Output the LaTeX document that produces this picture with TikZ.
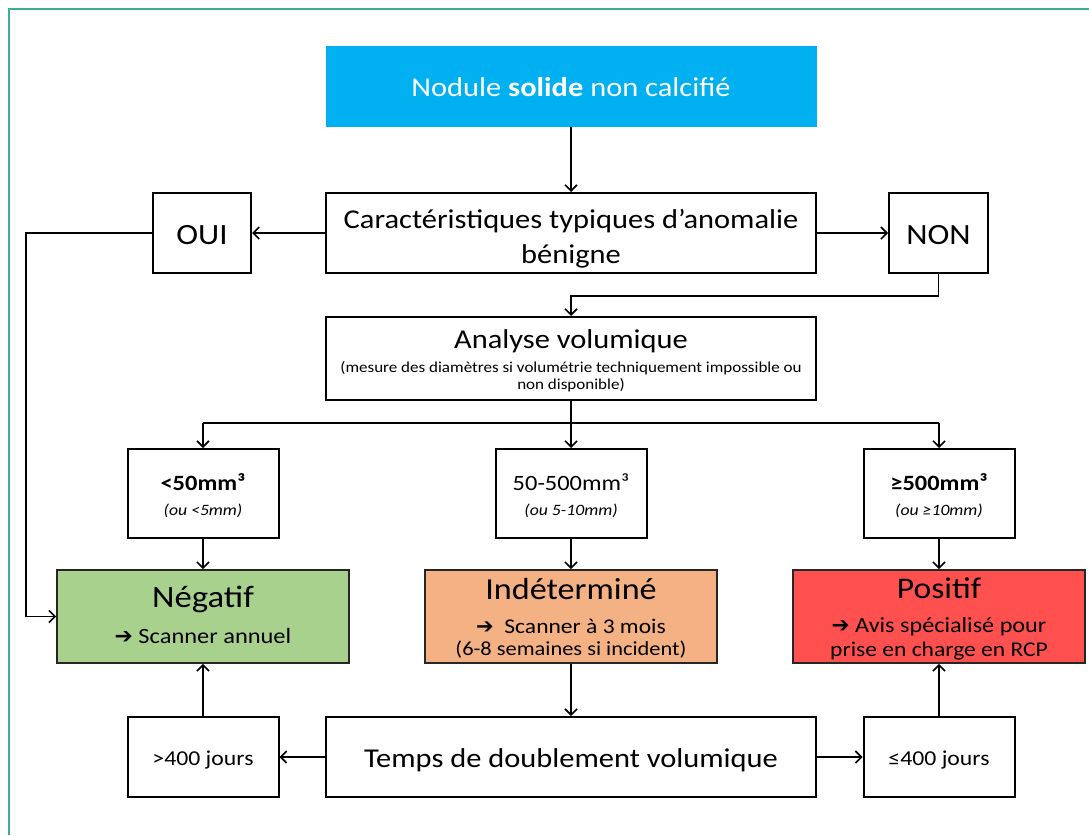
\documentclass[tikz,border=0pt]{standalone}
\usepackage{fontspec}
\setmainfont{Carlito}[FakeStretch=1.12]
\newfontfamily\dvs{DejaVu Sans}
\usetikzlibrary{arrows.meta}
\definecolor{framec}{HTML}{3AAE96}
\definecolor{nblue}{HTML}{00B0F0}
\definecolor{ngreen}{HTML}{A9D18E}
\definecolor{norange}{HTML}{F4B183}
\definecolor{nred}{HTML}{FF5050}
\newcommand{\fs}[1]{\fontsize{#1}{1.2\dimexpr#1pt\relax}\selectfont}
\newcommand{\harr}{{\dvs\char"2794}}
\begin{document}
\begin{tikzpicture}[x=1pt,y=-1pt,
  box/.style={draw=black, line width=2pt, inner sep=0pt, align=center, fill=white},
  res/.style={draw=black!85, line width=1.8pt, inner sep=0pt, minimum width=292, minimum height=93},
  arr/.style={line width=1.6pt, -{Straight Barb[length=6pt,width=12pt]}},
  ln/.style={line width=1.6pt},
  txt/.style={inner sep=0pt, anchor=base}]
\useasboundingbox (0,0) rectangle (1089,835);
\draw[framec, line width=2.5pt] (9,835) -- (9,9) -- (1089,9);

% top
\node[fill=nblue, inner sep=0pt, minimum width=491, minimum height=81] (top) at (571,86.5) {};
\node[txt, text=white, font=\fs{27.2}] (topt) at (571,96) {Nodule \textbf{solide} non calcifié};

\node[box, minimum width=490, minimum height=80] (car) at (571,233) {};
\node[txt, font=\fs{27.2}] (car1) at (571,228) {Caractéristiques typiques d’anomalie};
\node[txt, font=\fs{27.2}] (car2) at (571,263) {bénigne};
\node[box, minimum width=98, minimum height=80] (oui) at (202,233) {};
\node[txt, font=\fs{29.4}] (ouit) at (202,244) {OUI};
\node[box, minimum width=99, minimum height=80] (non) at (938.5,233) {};
\node[txt, font=\fs{29.4}] (nont) at (938.5,244) {NON};

% analysis
\node[box, minimum width=490, minimum height=83] (ana) at (571,358.5) {};
\node[txt, font=\fs{27.2}] (anat) at (571,348) {Analyse volumique};
\node[txt, font=\fs{15.2}] (anas1) at (571,372) {(mesure des diamètres si volumétrie techniquement impossible ou};
\node[txt, font=\fs{15.2}] (anas2) at (571,389) {non disponible)};

% criteria
\node[box, minimum width=151, minimum height=89] (c1) at (203,493.5) {};
\node[txt, font=\fs{21.8}\bfseries] (c1a) at (203,490) {<50mm³};
\node[txt, font=\fs{15.8}\itshape] (c1b) at (203,515) {(ou <5mm)};
\node[box, minimum width=151, minimum height=89] (c2) at (571,493.5) {};
\node[txt, font=\fs{21.8}] (c2a) at (571,490) {50-500mm³};
\node[txt, font=\fs{15.8}\itshape] (c2b) at (571,515) {(ou 5-10mm)};
\node[box, minimum width=151, minimum height=89] (c3) at (939,493.5) {};
\node[txt, font=\fs{21.8}\bfseries] (c3a) at (939,490) {≥500mm³};
\node[txt, font=\fs{15.8}\itshape] (c3b) at (939,515) {(ou ≥10mm)};

% results
\node[res, fill=ngreen] (neg) at (203,616.5) {};
\node[txt, font=\fs{31}] (negt) at (203,607) {Négatif};
\node[txt, font=\fs{21.8}] (negs) at (203,643) {\harr\ Scanner annuel};

\node[res, fill=norange] (ind) at (571,616.5) {};
\node[txt, font=\fs{30.5}] (indt) at (571,599) {Indéterminé};
\node[txt, font=\fs{21}] (inds) at (571,633) {\harr\ \ Scanner à 3 mois};
\node[txt, font=\fs{20}] (indp) at (571,655) {(6-8 semaines si incident)};

\node[res, fill=nred] (pos) at (939,616.5) {};
\node[txt, font=\fs{30}] (post) at (939,598) {Positif};
\node[txt, font=\fs{21.6}] (poss) at (939,632) {\harr\ Avis spécialisé pour};
\node[txt, font=\fs{21}] (posp) at (939,656) {prise en charge en RCP};

% bottom row
\node[box, minimum width=490, minimum height=80] (temps) at (571,757) {};
\node[txt, font=\fs{27.2}] (tempst) at (571,767) {Temps de doublement volumique};
\node[box, minimum width=151, minimum height=80] (j1) at (203,757) {};
\node[txt, font=\fs{21.2}] (j1t) at (203,765) {>400 jours};
\node[box, minimum width=151, minimum height=80] (j2) at (939,757) {};
\node[txt, font=\fs{21.2}] (j2t) at (939,765) {≤400 jours};

% connectors
\coordinate (lx) at (26,0);
\coordinate (split) at (571,423);
\draw[arr] (top.south) -- (car.north);
\draw[arr] (car.west) -- (oui.east);
\draw[arr] (car.east) -- (non.west);
\draw[arr] (non.south) -- ++(0,22) -| (ana.north);
\draw[arr] (oui.west) -- (oui.west -| lx) |- (neg.west);
\draw[ln] (ana.south) -- (split);
\draw[ln] (c1.north |- split) -- (c3.north |- split);
\draw[arr] (c1.north |- split) -- (c1.north);
\draw[arr] (split) -- (c2.north);
\draw[arr] (c3.north |- split) -- (c3.north);
\draw[arr] (c1.south) -- (neg.north);
\draw[arr] (c2.south) -- (ind.north);
\draw[arr] (c3.south) -- (pos.north);
\draw[arr] (ind.south) -- (temps.north);
\draw[arr] (temps.west) -- (j1.east);
\draw[arr] (temps.east) -- (j2.west);
\draw[arr] (j1.north) -- (neg.south);
\draw[arr] (j2.north) -- (pos.south);
\end{tikzpicture}
\end{document}
